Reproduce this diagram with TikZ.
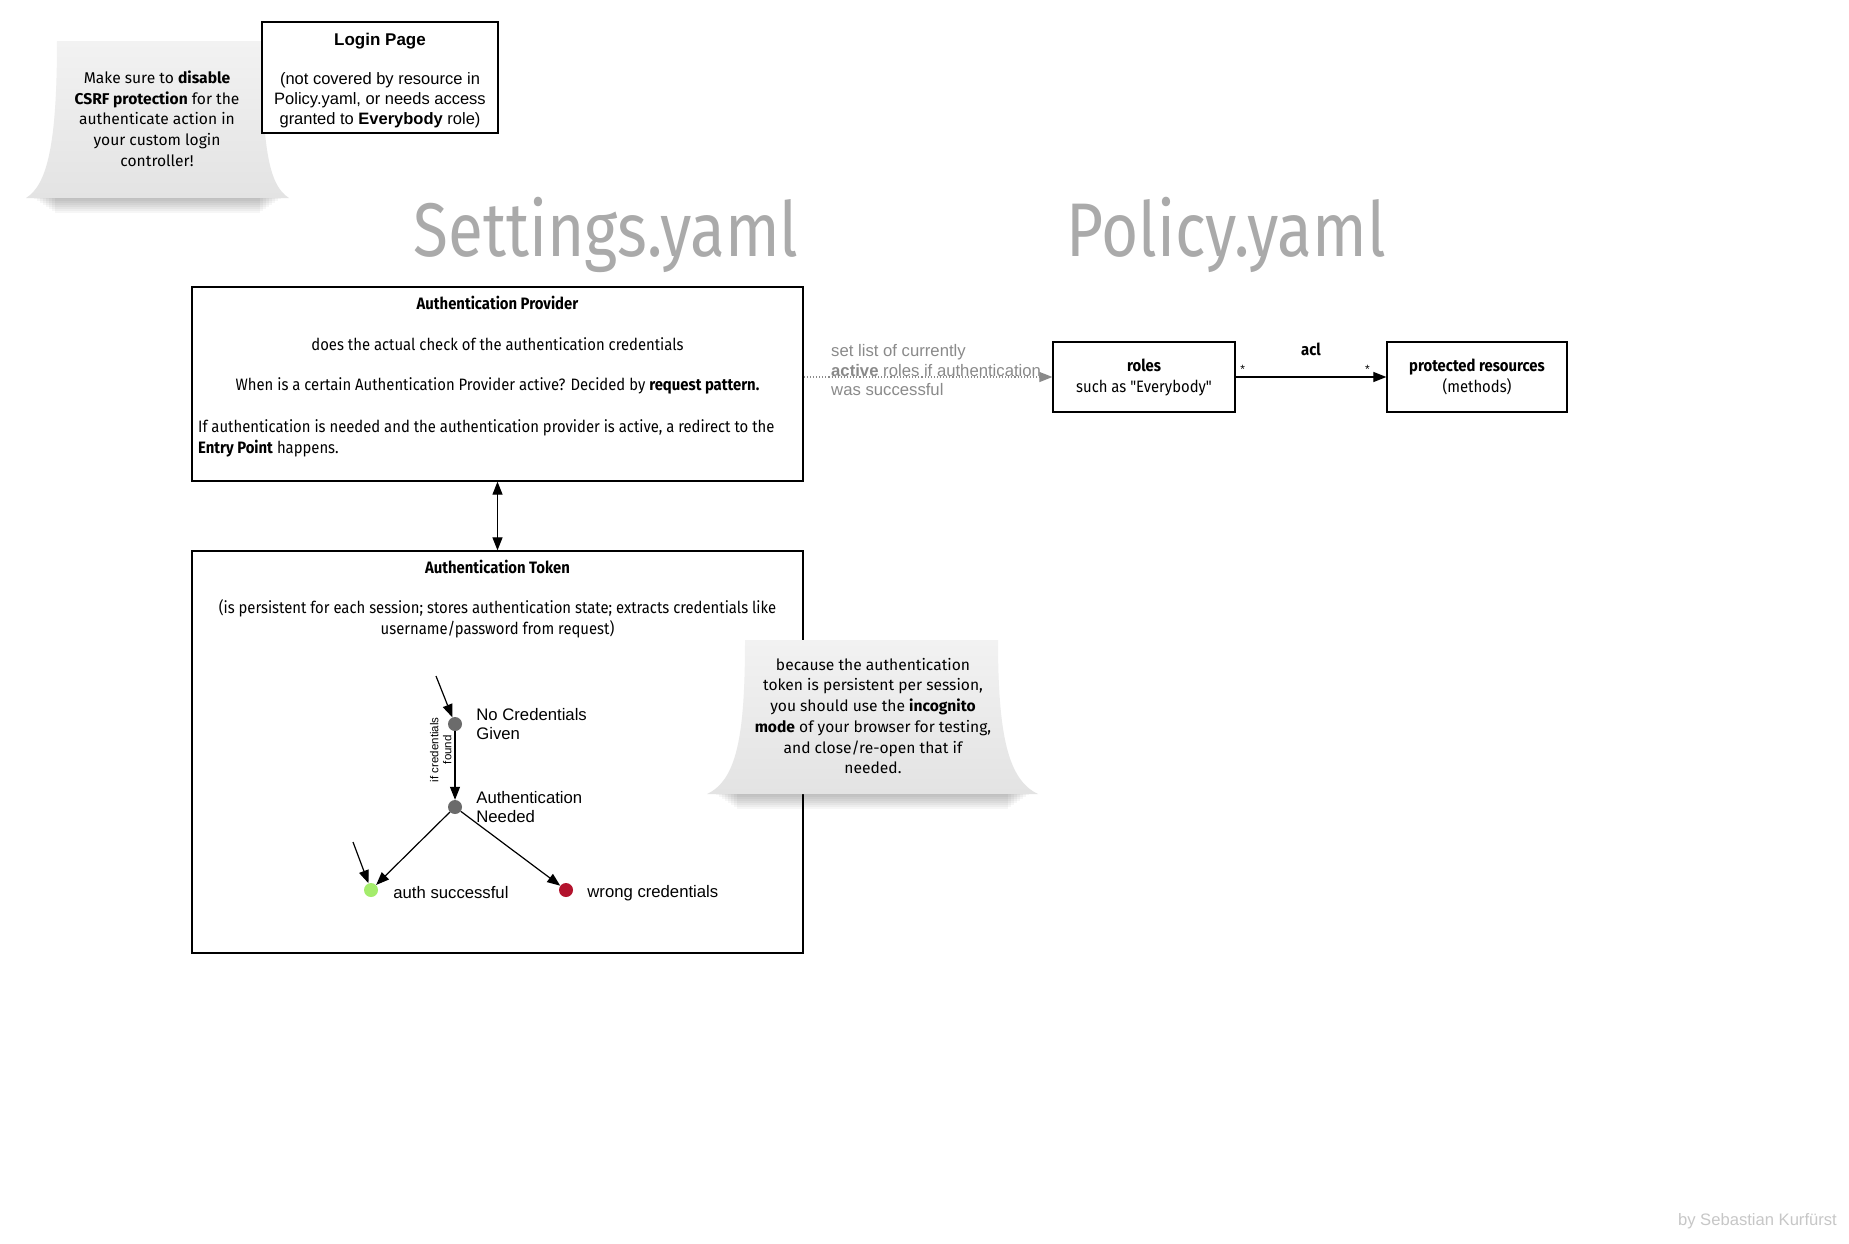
\documentclass[tikz,border=0pt]{standalone}
\usepackage{fontspec}
\setmainfont{Liberation Sans}
\newfontfamily\firafont[FakeStretch=0.9]{Fira Sans}
\newfontfamily\headfont[FakeStretch=0.84]{Fira Sans}
\newfontfamily\notefont{Fira Sans}
\usetikzlibrary{arrows.meta,positioning}

\definecolor{headgray}{HTML}{AAAAAA}
\definecolor{hintgray}{HTML}{8A8A8A}
\definecolor{dotgray}{HTML}{6B6B6B}
\definecolor{okgreen}{HTML}{A4EC6C}
\definecolor{errred}{HTML}{B3132D}
\definecolor{notetop}{HTML}{F2F2F2}
\definecolor{notebottom}{HTML}{E3E3E3}

\begin{document}
\begin{tikzpicture}[x=1pt, y=-1pt, >={Triangle[length=13pt,width=10pt]},
    every node/.style={inner sep=0pt},
    box/.style={draw, fill=white, line width=1.3pt},
    boxtext/.style={font=\firafont\fontsize{16.5}{21}\selectfont, align=center},
    boxtitle/.style={boxtext, font=\firafont\bfseries\fontsize{16.5}{21}\selectfont},
    helv/.style={font=\fontsize{16.5}{20}\selectfont, align=center},
    head/.style={font=\headfont\fontsize{76}{80}\selectfont, text=headgray, anchor=base},
    notetext/.style={font=\notefont\fontsize{15.6}{20.7}\selectfont, align=center},
    note/.style={top color=notetop, bottom color=notebottom},
    state/.style={circle, minimum size=14pt},
    statetext/.style={font=\fontsize{16.7}{19.5}\selectfont, align=left, anchor=west},
    trans/.style={->, line width=1.2pt}]

  \fill[white] (0,0) rectangle (1849,1243);

  % headings
  \node[head] (settings) at (606,256) {Settings.yaml};
  \node[head] (policy) at (1226,256) {Policy.yaml};

  % csrf note, under the login page
  \foreach \i in {0,...,7}
    \fill[black, opacity=0.035] (34+3*\i,196) rectangle (281-3*\i,199+2*\i);
  \path[note] (57,41) -- (262,41) .. controls (262,145) and (268,185) .. (289,198)
    -- (26,198) .. controls (47,185) and (57,145) .. (57,41) -- cycle;
  \node[notetext] (csrf) at (157,118.5) {Make sure to \textbf{disable}\\\textbf{CSRF protection} for the\\authenticate action in\\your custom login\\controller!};

  \node[box, minimum width=236pt, minimum height=111pt] (login) at (380,77.5) {};
  \node[helv, yshift=-3.5pt] at (login) {\textbf{\fontsize{17}{20}\selectfont Login Page}\\[19pt](not covered by resource in\\Policy.yaml, or needs access\\granted to \textbf{Everybody} role)};

  % settings boxes
  \node[box, minimum width=611pt, minimum height=194pt] (prov) at (497.5,384) {};
  \node[boxtitle] (provtitle) at (497.5,303) {Authentication Provider};
  \node[boxtext] (provcheck) at (497.5,344) {does the actual check of the authentication credentials};
  \node[boxtext] (provactive) at (497.5,386) {When is a certain Authentication Provider active? Decided by \textbf{request pattern.}};
  \node[boxtext, align=left, anchor=west] (provredirect) at (198,438.5) {If authentication is needed and the authentication provider is active, a redirect to the\\\textbf{Entry Point} happens.};

  \node[box, minimum width=611pt, minimum height=402pt] (token) at (497.5,752) {};
  \node[boxtitle] (tokentitle) at (497.5,567) {Authentication Token};
  \node[boxtext] (tokentext) at (497.5,618.5) {(is persistent for each session; stores authentication state; extracts credentials like\\username/password from request)};

  \draw[<->, line width=1.2pt] (prov) -- (token);

  % token states
  \foreach \s/\x/\y/\c in {ncg/455/724/dotgray, aneed/455/807/dotgray, succ/371/890/okgreen, wrong/566/890/errred}
    \node[state, fill=\c] (\s) at (\x,\y) {};
  \node[statetext, right=14pt of ncg] {No Credentials\\Given};
  \node[statetext, right=14pt of aneed] {Authentication\\Needed};
  \node[statetext, right=15pt of succ, yshift=-3pt] {auth successful};
  \node[statetext, right=14pt of wrong, yshift=-3pt] {wrong credentials};

  \coordinate (startncg) at (436,676);
  \coordinate (startsucc) at (353,842);
  \draw[trans] (startncg) -- (ncg);
  \draw[trans] (startsucc) -- (succ);
  \draw[trans] (ncg) -- node[pos=0.27, rotate=90, anchor=south, yshift=3pt, font=\fontsize{11.5}{13}\selectfont, align=center] {if credentials\\found} (aneed);
  \draw[trans] (aneed) -- (succ);
  \draw[trans] (aneed) -- (wrong);

  % incognito note, over the token box
  \foreach \i in {0,...,7}
    \fill[black, opacity=0.035] (716+3*\i,792) rectangle (1029-3*\i,795+2*\i);
  \path[note] (745,640) -- (998,640) .. controls (998,735) and (1008,780) .. (1038,794)
    -- (707,794) .. controls (737,780) and (745,735) .. (745,640) -- cycle;
  \node[notetext] (incognito) at (873,716) {because the authentication\\token is persistent per session,\\you should use the \textbf{incognito}\\\textbf{mode} of your browser for testing,\\and close/re-open that if\\needed.};

  % policy boxes
  \node[box, minimum width=182pt, minimum height=70pt] (roles) at (1144,377) {};
  \node[boxtext] at (roles) {\textbf{roles}\\such as "Everybody"};
  \node[box, minimum width=180pt, minimum height=70pt] (res) at (1477,377) {};
  \node[boxtext] at (res) {\textbf{protected resources}\\(methods)};

  \draw[hintgray, dotted, line width=1.1pt, -{Triangle[length=13pt,width=10pt]}] (prov.east |- roles.west) --
    node[pos=0, anchor=west, xshift=27pt, yshift=6.5pt, text=hintgray, font=\fontsize{16.7}{19.5}\selectfont, align=left]
    {set list of currently\\\textbf{active} roles if authentication\\was successful} (roles.west);
  \draw[trans] (roles) -- node[above=21pt, font=\firafont\bfseries\fontsize{16.5}{18}\selectfont] {acl}
    node[pos=0, anchor=south west, xshift=4pt, yshift=3pt, font=\fontsize{12}{12}\selectfont] {*}
    node[pos=1, anchor=south east, xshift=-16pt, yshift=3pt, font=\fontsize{12}{12}\selectfont] {*} (res);

  \node[anchor=east, text=black!22, font=\fontsize{16.6}{18}\selectfont] (author) at (1837,1221) {by Sebastian Kurfürst};
\end{tikzpicture}
\end{document}
